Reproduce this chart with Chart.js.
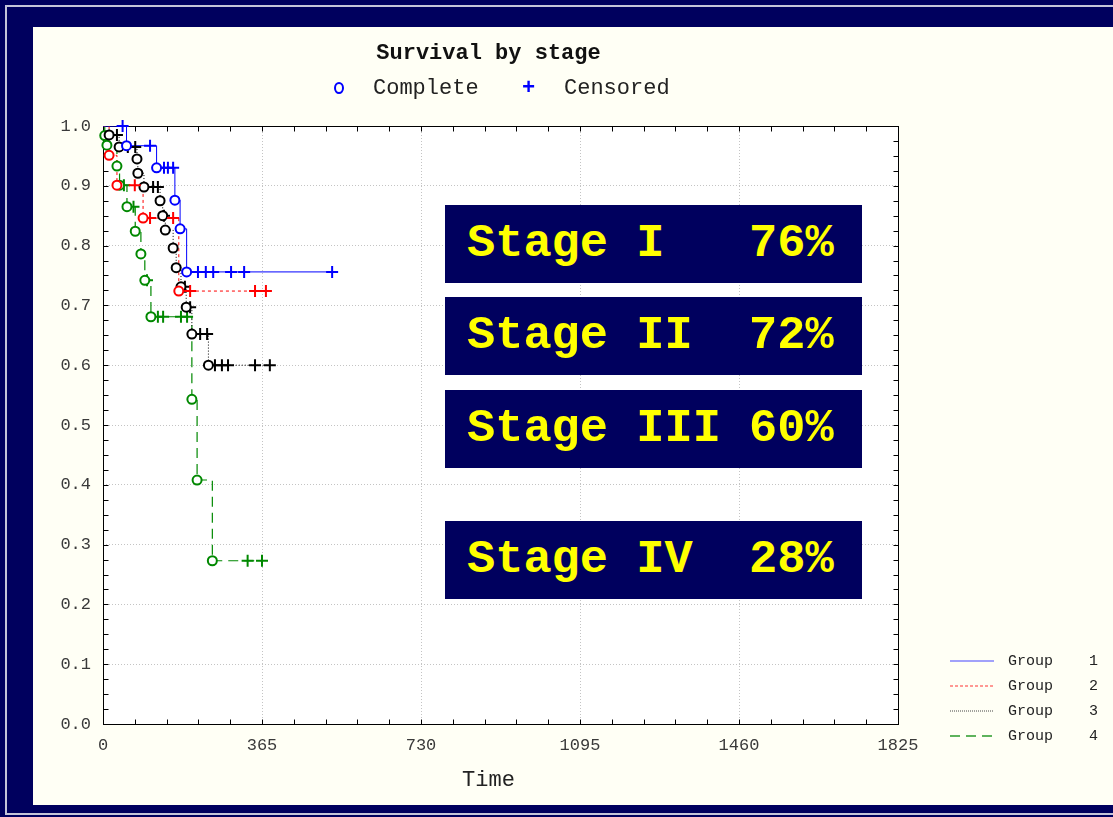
<!DOCTYPE html>
<html lang="en">
<head>
<meta charset="UTF-8">
<title>Survival by stage</title>
<script src="https://cdn.jsdelivr.net/npm/chart.js@4.4.1/dist/chart.umd.min.js"></script>
<style>
  body { margin: 0; width: 1113px; height: 817px; background: #00005e; overflow: hidden; position: relative; font-family: "Liberation Mono", monospace; }
  .frame { position: absolute; left: 5px; top: 5px; width: 1112px; height: 806px; border: 2px solid #c4c4d8; border-right: none; }
  .panel { position: absolute; left: 33px; top: 27px; width: 1080px; height: 778px; background: #fffff5; }
  #chart { position: absolute; left: 0; top: 0; }
  .title { position: absolute; left: 0; width: 977px; top: 41px; text-align: center; font-weight: bold; font-size: 22px; color: #111; }
  .xtitle { position: absolute; left: 0; width: 977px; top: 768px; text-align: center; font-size: 22px; color: #222; }
  .mk { position: absolute; top: 76px; font-size: 22px; color: #222; white-space: pre; }
  .stage { position: absolute; left: 445px; width: 417px; height: 78px; line-height: 78px; background: #00005e; color: #ffff00; font-weight: bold; font-size: 47px; white-space: pre; padding-left: 22px; box-sizing: border-box; }
  .grp { position: absolute; left: 950px; font-size: 15px; color: #222; white-space: pre; }
  .grp svg { vertical-align: middle; margin-right: 14px; }
</style>
</head>
<body>
<div class="frame"></div>
<div class="panel"></div>
<canvas id="chart" width="1113" height="817"></canvas>

<div class="title">Survival by stage</div>
<div class="mk" style="left:333px;"><svg width="12" height="14" style="vertical-align:-1px"><ellipse cx="6" cy="7" rx="4" ry="5" fill="none" stroke="#0000ff" stroke-width="2"/></svg></div>
<div class="mk" style="left:373px;">Complete</div>
<div class="mk" style="left:522px;color:#0000ff;font-weight:bold;">+</div>
<div class="mk" style="left:564px;">Censored</div>
<div class="xtitle">Time</div>

<div class="stage" style="top:205px;">Stage I   76%</div>
<div class="stage" style="top:297px;">Stage II  72%</div>
<div class="stage" style="top:390px;">Stage III 60%</div>
<div class="stage" style="top:521px;">Stage IV  28%</div>

<div class="grp" style="top:653px;"><svg width="44" height="4"><line x1="0" y1="2" x2="44" y2="2" stroke="#4444ff" stroke-width="1.2"/></svg>Group    1</div>
<div class="grp" style="top:678px;"><svg width="44" height="4"><line x1="0" y1="2" x2="44" y2="2" stroke="#ff3333" stroke-width="1.2" stroke-dasharray="3,2"/></svg>Group    2</div>
<div class="grp" style="top:703px;"><svg width="44" height="4"><line x1="0" y1="2" x2="44" y2="2" stroke="#444" stroke-width="1" stroke-dasharray="1,1"/></svg>Group    3</div>
<div class="grp" style="top:728px;"><svg width="44" height="4"><line x1="0" y1="2" x2="44" y2="2" stroke="#2a9a2a" stroke-width="1.5" stroke-dasharray="10,6"/></svg>Group    4</div>

<script>
  // values (time in days, survival proportion)
  const xTickStep = 365;
  const xMax = 1825;
  const yTickStep = 0.1;

  const g1EventTime = [54, 123, 165, 177, 192];
  const g1EventSurv = [0.967, 0.930, 0.876, 0.828, 0.756];
  const g1CensTime = [45, 108, 140, 149, 161, 218, 236, 253, 294, 324, 526];

  const g2EventTime = [14, 32, 92, 174];
  const g2EventSurv = [0.951, 0.901, 0.846, 0.724];
  const g2CensTime = [73, 108, 161, 200, 349, 374];

  const g3EventTime = [14, 37, 78, 80, 94, 131, 137, 143, 161, 168, 179, 191, 204, 242];
  const g3EventSurv = [0.985, 0.965, 0.945, 0.921, 0.898, 0.875, 0.850, 0.826, 0.796, 0.763, 0.731, 0.697, 0.652, 0.600];
  const g3CensTime = [32, 57, 74, 115, 126, 140, 188, 200, 223, 239, 257, 273, 287, 349, 383];

  const g4EventTime = [4, 9, 32, 38, 55, 74, 87, 96, 110, 204, 216, 251];
  const g4EventSurv = [0.984, 0.968, 0.933, 0.901, 0.865, 0.824, 0.786, 0.742, 0.681, 0.543, 0.408, 0.273];
  const g4CensTime = [48, 70, 101, 126, 138, 179, 193, 332, 365];

  // survival level at time t (step function)
  function survAt(evT, evS, t) {
    let s = 1;
    for (let i = 0; i < evT.length; i++) {
      if (evT[i] <= t) s = evS[i];
    }
    return s;
  }

  function kmSets(label, evT, evS, cT, color, dash, width) {
    const events = evT.map((t, i) => ({ x: t, y: evS[i] }));
    const cens = cT.map(t => ({ x: t, y: survAt(evT, evS, t) }));
    const line = [{ x: 0, y: 1 }].concat(events, cens).sort((a, b) => a.x - b.x);
    return [
      { label: label, data: line, showLine: true, stepped: true, borderColor: color, borderWidth: width,
        borderDash: dash, pointRadius: 0, order: 2 },
      { label: label + ' complete', data: events, pointStyle: 'circle', pointRadius: 4.5, borderWidth: 2,
        borderColor: color, backgroundColor: '#ffffff', order: 1, clip: 8 },
      { label: label + ' censored', data: cens, pointStyle: 'cross', pointRadius: 6, borderWidth: 2,
        borderColor: color, order: 1, clip: 8 }
    ];
  }

  const datasets = [].concat(
    kmSets('Group 1', g1EventTime, g1EventSurv, g1CensTime, '#0000ff', [], 1),
    kmSets('Group 2', g2EventTime, g2EventSurv, g2CensTime, '#ff0000', [3, 3], 1),
    kmSets('Group 3', g3EventTime, g3EventSurv, g3CensTime, '#000000', [1, 2], 1),
    kmSets('Group 4', g4EventTime, g4EventSurv, g4CensTime, '#008800', [10, 6], 1.2)
  );

  // white plot area, black frame and inward minor ticks on all 4 sides
  const plotFrame = {
    id: 'plotFrame',
    beforeDraw(chart) {
      const a = chart.chartArea;
      chart.ctx.save();
      chart.ctx.fillStyle = '#ffffff';
      chart.ctx.fillRect(a.left, a.top, a.width, a.height);
      chart.ctx.restore();
    },
    beforeDatasetsDraw(chart) {
      const { ctx, chartArea: a, scales } = chart;
      const L = Math.round(a.left) + 0.5, R = Math.round(a.right) + 0.5;
      const T = Math.round(a.top) + 0.5, B = Math.round(a.bottom) + 0.5;
      ctx.save();
      ctx.strokeStyle = '#000';
      ctx.lineWidth = 1;
      ctx.strokeRect(L, T, R - L, B - T);
      ctx.beginPath();
      for (let v = 0; v <= xMax + 0.1; v += xTickStep / 5) {
        const px = Math.round(scales.x.getPixelForValue(v)) + 0.5;
        ctx.moveTo(px, B); ctx.lineTo(px, B - 5);
        ctx.moveTo(px, T); ctx.lineTo(px, T + 5);
      }
      for (let v = 0; v <= 1.0001; v += yTickStep / 4) {
        const py = Math.round(scales.y.getPixelForValue(v)) + 0.5;
        ctx.moveTo(L, py); ctx.lineTo(L + 5, py);
        ctx.moveTo(R, py); ctx.lineTo(R - 5, py);
      }
      ctx.stroke();
      ctx.restore();
    }
  };

  Chart.defaults.font.family = '"Liberation Mono", monospace';
  Chart.defaults.color = '#3a3a3a';

  new Chart(document.getElementById('chart'), {
    type: 'scatter',
    data: { datasets: datasets },
    options: {
      responsive: false,
      animation: false,
      layout: { padding: { left: 43, right: 215, top: 126, bottom: 13 } },
      plugins: { legend: { display: false }, tooltip: { enabled: false } },
      scales: {
        x: {
          type: 'linear', min: 0, max: xMax,
          afterFit: (s) => { s.height = 80; },
          ticks: { stepSize: xTickStep, padding: 11, font: { size: 17 }, maxRotation: 0, callback: (v) => String(v) },
          grid: { color: '#c4c4c4', drawTicks: false },
          border: { display: false, dash: [1, 2] }
        },
        y: {
          min: 0, max: 1,
          afterFit: (s) => { s.width = 60; },
          ticks: { stepSize: yTickStep, padding: 12, font: { size: 17 }, callback: (v) => v.toFixed(1) },
          grid: { color: '#c4c4c4', drawTicks: false },
          border: { display: false, dash: [1, 2] }
        }
      }
    },
    plugins: [plotFrame]
  });
</script>
</body>
</html>
